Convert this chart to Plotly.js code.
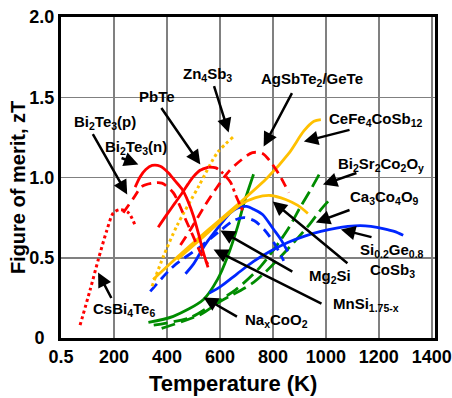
<!DOCTYPE html>
<html><head><meta charset="utf-8">
<script src="https://cdn.plot.ly/plotly-3.0.1.min.js"></script>
<style>html,body{margin:0;padding:0;background:#fff}#chart{width:452px;height:398px}</style>
</head><body><div id="chart"></div>
<script>
// ---- data (temperature K, zT) ----
const tCsBi4Te6 = [72,110,141,173,198,223,255,280];
const zCsBi4Te6 = [0.08,0.30,0.49,0.67,0.78,0.80,0.78,0.70];
const tBi2Te3p = [235,273,306,345,381,424,443,470,500,530,555];
const zBi2Te3p = [0.78,0.87,0.945,0.965,0.965,0.905,0.845,0.74,0.63,0.52,0.46];
const tBi2Te3n = [280,299,320,344,375,405,430,458,480,500,519,538,555];
const zBi2Te3n = [0.94,1.005,1.05,1.075,1.07,1.03,0.98,0.925,0.85,0.76,0.65,0.53,0.44];
const tPbTe = [367,400,430,458,480,500,525,557];
const zPbTe = [0.69,0.77,0.84,0.905,0.96,1.005,1.045,1.065];
const tPbTeHigh = [557,585,609,640,662,690];
const zPbTeHigh = [1.065,1.06,1.03,0.97,0.88,0.78];
const tAgSbTe2 = [451,489,545,591,633,678,723,761,799,830,860];
const zAgSbTe2 = [0.58,0.676,0.83,0.944,1.037,1.106,1.155,1.15,1.08,1.0,0.906];
const tZn4Sb3 = [344,387,438,520,591,652];
const zZn4Sb3 = [0.323,0.51,0.70,0.946,1.156,1.255];
const tCeFe4 = [348,450,560,680,780,860,917,955,981];
const zCeFe4 = [0.365,0.52,0.68,0.85,1.0,1.15,1.29,1.35,1.36];
const tCoSb3 = [439,526,602,678,735,792,848,894,932];
const zCoSb3 = [0.489,0.614,0.726,0.832,0.875,0.888,0.863,0.826,0.776];
const tSiGe = [560,602,665,727,790,856,920,981,1040,1083,1130,1170,1220,1258,1292];
const zSiGe = [0.28,0.32,0.40,0.477,0.54,0.595,0.635,0.664,0.685,0.695,0.70,0.695,0.68,0.664,0.64];
const tMg2Si = [470,500,545,602,640,667,700,730,761,803,830,856];
const zMg2Si = [0.40,0.46,0.583,0.706,0.78,0.81,0.82,0.80,0.77,0.676,0.614,0.539];
const tMnSi = [337,424,527,602,650,690,730,770,805,841];
const zMnSi = [0.29,0.446,0.57,0.67,0.73,0.75,0.73,0.67,0.59,0.48];
const tNaCoO2 = [330,424,538,591,629,667,689,727];
const zNaCoO2 = [0.097,0.135,0.24,0.365,0.508,0.695,0.83,1.02];
const tBi2Sr2 = [350,489,583,659,754,856,905,943,985];
const zBi2Sr2 = [0.08,0.128,0.22,0.30,0.446,0.676,0.82,0.925,1.05];
const tCa3Co4O9 = [380,527,602,727,830,932,981,1019];
const zCa3Co4O9 = [0.06,0.147,0.228,0.346,0.508,0.695,0.80,0.87];

const xTickVals = [0,200,400,600,800,1000,1200,1400];
const xTickText = ['0.5','200','400','600','800','1000','1200','1400'];
const yTickVals = [0,0.5,1.0,1.5,2.0];
const yTickText = ['0\u00a0\u00a0','0.5','1.0','1.5','2.0'];

// ---- styles ----
const RED='#ff0000', ORANGE='#ffc000', BLUE='#0026ff', GREEN='#008c00';
const DOT='3px,3px', DASH='10px,6px', LDASH='14px,6px', DASHDOT='10px,4px,3px,4px';
function tr(x,y,color,dash,w){
  return {x:x,y:y,type:'scatter',mode:'lines',showlegend:false,hoverinfo:'skip',
    line:{color:color,width:w||2.8,dash:dash,shape:'spline',smoothing:0.8}};
}
const data = [
  tr(tNaCoO2,zNaCoO2,GREEN,'solid'),
  tr(tBi2Sr2,zBi2Sr2,GREEN,LDASH),
  tr(tCa3Co4O9,zCa3Co4O9,GREEN,LDASH),
  tr(tSiGe,zSiGe,BLUE,'solid'),
  tr(tMg2Si,zMg2Si,BLUE,'solid'),
  tr(tMnSi,zMnSi,BLUE,DASH),
  tr(tZn4Sb3,zZn4Sb3,ORANGE,DOT,3),
  tr(tCeFe4,zCeFe4,ORANGE,'solid'),
  tr(tCoSb3,zCoSb3,ORANGE,'solid'),
  tr(tCsBi4Te6,zCsBi4Te6,RED,DOT,3),
  tr(tBi2Te3p,zBi2Te3p,RED,DASH),
  tr(tBi2Te3n,zBi2Te3n,RED,'solid'),
  tr(tPbTe,zPbTe,RED,'solid'),
  tr(tPbTeHigh,zPbTeHigh,RED,DASHDOT),
  tr(tAgSbTe2,zAgSbTe2,RED,DASH)
];

const FONT='Liberation Sans, Arial, sans-serif';
const labels = [
  ['Bi<sub>2</sub>Te<sub>3</sub>(p)',167,1.342],
  ['Bi<sub>2</sub>Te<sub>3</sub>(n)',284,1.187],
  ['PbTe',364,1.504],
  ['Zn<sub>4</sub>Sb<sub>3</sub>',553,1.641],
  ['AgSbTe<sub>2</sub>/GeTe',947,1.61],
  ['CeFe<sub>4</sub>CoSb<sub>12</sub>',1189,1.361],
  ['Bi<sub>2</sub>Sr<sub>2</sub>Co<sub>2</sub>O<sub>y</sub>',1208,1.081],
  ['Ca<sub>3</sub>Co<sub>4</sub>O<sub>9</sub>',1220,0.875],
  ['Si<sub>0.2</sub>Ge<sub>0.8</sub>',1250,0.545],
  ['CoSb<sub>3</sub>',1250,0.421],
  ['Mg<sub>2</sub>Si',1015,0.384],
  ['MnSi<sub>1.75-x</sub>',1152,0.209],
  ['Na<sub>x</sub>CoO<sub>2</sub>',814,0.110],
  ['CsBi<sub>4</sub>Te<sub>6</sub>',239,0.178]
];
// [tailX, tailY, tipX, tipY]
const arrows = [
  [117,1.280,250,0.894],
  [223,1.125,292,1.081],
  [375,1.442,526,1.081],
  [576,1.579,633,1.28],
  [875,1.535,765,1.193],
  [1095,1.299,917,1.224],
  [1121,1.031,989,0.956],
  [1095,0.801,962,0.72],
  [1178,0.626,1057,0.676],
  [1087,0.458,799,0.851],
  [879,0.408,602,0.67],
  [989,0.209,576,0.552],
  [670,0.128,538,0.253],
  [193,0.240,140,0.408]
];
const annotations = [];
labels.forEach(l=>annotations.push({text:l[0],x:l[1],y:l[2],xref:'x',yref:'y',showarrow:false,
  font:{family:FONT,size:15,color:'#000',weight:'bold'}}));
arrows.forEach(a=>annotations.push({text:'',x:a[2],y:a[3],ax:a[0],ay:a[1],axref:'x',ayref:'y',xref:'x',yref:'y',
  showarrow:true,arrowhead:2,arrowsize:1.15,arrowwidth:2.5,arrowcolor:'#000',standoff:0}));
// axis titles
annotations.push({text:'Temperature (K)',xref:'paper',yref:'paper',x:0.46,y:-0.143,
  xanchor:'center',yanchor:'middle',showarrow:false,
  font:{family:FONT,size:22,color:'#000',weight:'bold'}});
annotations.push({text:'Figure of merit, zT',xref:'paper',yref:'paper',x:-0.115,y:0.47,
  xanchor:'center',yanchor:'middle',textangle:-90,showarrow:false,
  font:{family:FONT,size:20,color:'#000',weight:'bold'}});

const layout = {
  width:452,height:398,
  margin:{l:61,r:17,t:17,b:60},
  paper_bgcolor:'#fff',plot_bgcolor:'#fff',
  font:{family:FONT,color:'#000'},
  xaxis:{range:[0,1412],tickvals:xTickVals,ticktext:xTickText,
    tickfont:{family:FONT,size:18,weight:'bold',color:'#000'},
    showgrid:true,gridcolor:'#808080',gridwidth:1.5,zeroline:false,
    showline:true,linecolor:'#000',linewidth:3,mirror:true,ticks:''},
  yaxis:{range:[0,2],tickvals:yTickVals,ticktext:yTickText,
    tickfont:{family:FONT,size:18,weight:'bold',color:'#000'},
    showgrid:true,gridcolor:'#808080',gridwidth:1.5,zeroline:false,
    showline:true,linecolor:'#000',linewidth:3,mirror:true,ticks:''},
  annotations:annotations,
  showlegend:false
};
Plotly.newPlot('chart',data,layout,{staticPlot:true,displayModeBar:false});
</script></body></html>
